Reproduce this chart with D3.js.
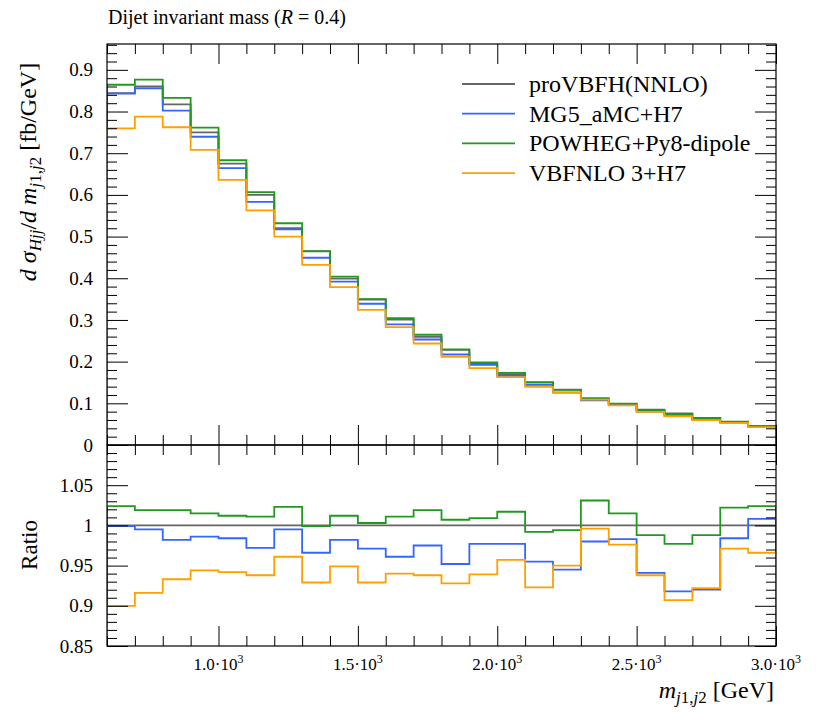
<!DOCTYPE html>
<html>
<head>
<meta charset="utf-8">
<script src="https://cdn.jsdelivr.net/npm/d3@7"></script>
<style>
  body { margin: 0; background: #fff; }
  svg, text, tspan { font-family: "Liberation Serif", serif; fill: #000; }
</style>
</head>
<body>
<svg width="816" height="712"></svg>
<script>
// bin edges of m_j1,j2 [GeV]
const binEdges = [600, 700, 800, 900, 1000, 1100, 1200, 1300, 1400, 1500, 1600, 1700,
                  1800, 1900, 2000, 2100, 2200, 2300, 2400, 2500, 2600, 2700, 2800, 2900, 3000];

// proVBFH(NNLO) reference, fb/GeV
const proVBFH = [0.844, 0.860, 0.817, 0.750, 0.675, 0.600, 0.520, 0.465, 0.399, 0.349, 0.301, 0.2596,
                 0.228, 0.1966, 0.170, 0.151, 0.133, 0.1093, 0.0976, 0.0849, 0.076, 0.0648, 0.0547, 0.0445];

// ratios to proVBFH(NNLO)
const ratioMG5 = [0.999, 0.995, 0.982, 0.986, 0.984, 0.972, 0.995, 0.966, 0.982, 0.971, 0.961, 0.975,
                  0.952, 0.977, 0.977, 0.955, 0.945, 0.980, 0.983, 0.941, 0.918, 0.920, 0.984, 1.008];
const ratioPOWHEG = [1.024, 1.019, 1.019, 1.015, 1.012, 1.011, 1.023, 0.999, 1.012, 1.003, 1.011, 1.019,
                     1.007, 1.009, 1.017, 0.992, 0.994, 1.031, 1.015, 0.988, 0.977, 0.988, 1.022, 1.024];
const ratioVBFNLO = [0.900, 0.916, 0.933, 0.944, 0.942, 0.938, 0.961, 0.929, 0.949, 0.929, 0.940, 0.938,
                     0.928, 0.939, 0.957, 0.923, 0.950, 0.996, 0.976, 0.938, 0.907, 0.922, 0.971, 0.966];

const mainMajor = [0, 0.1, 0.2, 0.3, 0.4, 0.5, 0.6, 0.7, 0.8, 0.9];
const mainLabels = ["0", "0.1", "0.2", "0.3", "0.4", "0.5", "0.6", "0.7", "0.8", "0.9"];
const ratioMajor = [0.85, 0.9, 0.95, 1, 1.05];
const ratioLabels = ["0.85", "0.9", "0.95", "1", "1.05"];
const xMajor = [1000, 1500, 2000, 2500, 3000];
const xLabels = ["1.0", "1.5", "2.0", "2.5", "3.0"];

const series = [
  { name: "proVBFH(NNLO)", color: "#666666", ratio: proVBFH.map(() => 1) },
  { name: "MG5_aMC+H7", color: "#3366ff", ratio: ratioMG5 },
  { name: "POWHEG+Py8-dipole", color: "#1f9a1f", ratio: ratioPOWHEG },
  { name: "VBFNLO 3+H7", color: "#ffa000", ratio: ratioVBFNLO }
];

const serif = "Liberation Serif";
const svg = d3.select("svg").attr("font-family", serif);
const pLeft = 107, pRight = 776, pTop = 44, pMid = 445, pBottom = 646;

const x = d3.scaleLinear().domain([600, 3000]).range([pLeft, pRight]);
const y = d3.scaleLinear().domain([0, 0.962]).range([pMid, pTop]);
const yr = d3.scaleLinear().domain([0.85, 1.1]).range([pBottom, pMid]);

// minor tick values
const xMinor = binEdges.filter(v => !xMajor.includes(v));
const mainMinor = d3.range(0, 0.962, 0.02).filter(v => Math.abs(v * 10 - Math.round(v * 10)) > 1e-6);
const ratioMinor = d3.range(0.85, 1.1, 0.01).filter(v => Math.abs(v * 20 - Math.round(v * 20)) > 1e-6);

svg.append("defs").call(defs => {
  defs.append("clipPath").attr("id", "clipMain")
    .append("rect").attr("x", pLeft).attr("y", pTop).attr("width", pRight - pLeft).attr("height", pMid - pTop);
  defs.append("clipPath").attr("id", "clipRatio")
    .append("rect").attr("x", pLeft).attr("y", pMid).attr("width", pRight - pLeft).attr("height", pBottom - pMid);
});

function stepPath(vals, scale, base) {
  const pts = [[600, base]];
  binEdges.forEach((e, i) => pts.push([e, vals[Math.min(i, vals.length - 1)]]));
  pts.push([3000, base]);
  return d3.line().x(d => x(d[0])).y(d => scale(d[1])).curve(d3.curveStepAfter)(pts);
}

// main panel histograms
const gMain = svg.append("g").attr("clip-path", "url(#clipMain)");
series.forEach(s => {
  const vals = proVBFH.map((v, i) => v * s.ratio[i]);
  gMain.append("path")
    .attr("d", stepPath(vals, y, 0))
    .attr("fill", "none").attr("stroke", s.color).attr("stroke-width", 1.8);
});

// ratio panel histograms
const gRatio = svg.append("g").attr("clip-path", "url(#clipRatio)");
series.forEach(s => {
  gRatio.append("path")
    .attr("d", stepPath(s.ratio, yr, 0))
    .attr("fill", "none").attr("stroke", s.color).attr("stroke-width", 1.8);
});

// inward ticks
function ticks(axis, tx, ty, values, size) {
  svg.append("g").attr("transform", `translate(${tx},${ty})`)
    .call(axis.tickValues(values).tickSize(size).tickFormat(""))
    .call(g => g.select(".domain").remove())
    .call(g => g.selectAll("line").attr("stroke", "#000").attr("stroke-width", 1));
}
[[xMajor, 20], [xMinor, 10]].forEach(([v, s]) => {
  ticks(d3.axisBottom(x), 0, pTop, v, s);
  ticks(d3.axisTop(x), 0, pMid, v, s);
  ticks(d3.axisBottom(x), 0, pMid, v, s);
  ticks(d3.axisTop(x), 0, pBottom, v, s);
});
[[mainMajor, 21], [mainMinor, 10]].forEach(([v, s]) => {
  ticks(d3.axisRight(y), pLeft, 0, v, s);
  ticks(d3.axisLeft(y), pRight, 0, v, s);
});
[[ratioMajor, 21], [ratioMinor, 10]].forEach(([v, s]) => {
  ticks(d3.axisRight(yr), pLeft, 0, v, s);
  ticks(d3.axisLeft(yr), pRight, 0, v, s);
});

// frames
[[pTop, pMid], [pMid, pBottom]].forEach(([a, b]) => {
  svg.append("rect").attr("x", pLeft).attr("y", a).attr("width", pRight - pLeft).attr("height", b - a)
    .attr("fill", "none").attr("stroke", "#000").attr("stroke-width", 1.2);
});

// y tick labels
svg.append("g").attr("transform", `translate(${pLeft},0)`)
  .call(d3.axisLeft(y).tickValues(mainMajor).tickSize(0).tickPadding(14).tickFormat((d, i) => mainLabels[i]))
  .call(g => g.select(".domain").remove())
  .call(g => g.attr("font-family", serif).attr("font-size", 19));
svg.append("g").attr("transform", `translate(${pLeft},0)`)
  .call(d3.axisLeft(yr).tickValues(ratioMajor).tickSize(0).tickPadding(14).tickFormat((d, i) => ratioLabels[i]))
  .call(g => g.select(".domain").remove())
  .call(g => g.attr("font-family", serif).attr("font-size", 19));

// x tick labels
xMajor.forEach((v, i) => {
  const t = svg.append("text").attr("x", x(v)).attr("y", 670).attr("text-anchor", "middle").attr("font-size", 17);
  t.append("tspan").text(xLabels[i] + "\u00b710");
  t.append("tspan").attr("dy", -7).attr("font-size", 12).text("3");
});

// title
const title = svg.append("text").attr("x", 108).attr("y", 24).attr("font-size", 20);
title.append("tspan").text("Dijet invariant mass (");
title.append("tspan").attr("font-style", "italic").text("R");
title.append("tspan").text(" = 0.4)");

// x label
const xl = svg.append("text").attr("x", pRight - 2).attr("y", 698).attr("text-anchor", "end").attr("font-size", 24);
xl.append("tspan").attr("font-style", "italic").text("m");
xl.append("tspan").attr("dy", 5).attr("font-size", 17).attr("font-style", "italic").text("j");
xl.append("tspan").attr("font-size", 17).text("1,");
xl.append("tspan").attr("font-size", 17).attr("font-style", "italic").text("j");
xl.append("tspan").attr("font-size", 17).text("2");
xl.append("tspan").attr("dy", -5).text(" [GeV]");

// y label
const yl = svg.append("text").attr("transform", "translate(36,172) rotate(-90)")
  .attr("text-anchor", "middle").attr("font-size", 24);
yl.append("tspan").attr("font-style", "italic").text("d \u03c3");
yl.append("tspan").attr("dy", 5).attr("font-size", 17).attr("font-style", "italic").text("Hjj");
yl.append("tspan").attr("dy", -5).text("/");
yl.append("tspan").attr("font-style", "italic").text("d m");
yl.append("tspan").attr("dy", 5).attr("font-size", 17).attr("font-style", "italic").text("j");
yl.append("tspan").attr("font-size", 17).text("1,");
yl.append("tspan").attr("font-size", 17).attr("font-style", "italic").text("j");
yl.append("tspan").attr("font-size", 17).text("2");
yl.append("tspan").attr("dy", -5).text(" [fb/GeV]");

svg.append("text").attr("transform", "translate(37,545) rotate(-90)")
  .attr("text-anchor", "middle").attr("font-size", 23).text("Ratio");

// legend
const legend = svg.append("g").attr("transform", "translate(462,84)");
series.forEach((s, i) => {
  const g = legend.append("g").attr("transform", `translate(0,${i * 29.7})`);
  g.append("line").attr("x1", 0).attr("x2", 53).attr("stroke", s.color).attr("stroke-width", 1.8);
  g.append("text").attr("x", 67).attr("y", 8).attr("font-size", 24).text(s.name);
});

svg.selectAll("text").attr("font-family", serif).attr("fill", "#000");
</script>
</body>
</html>
